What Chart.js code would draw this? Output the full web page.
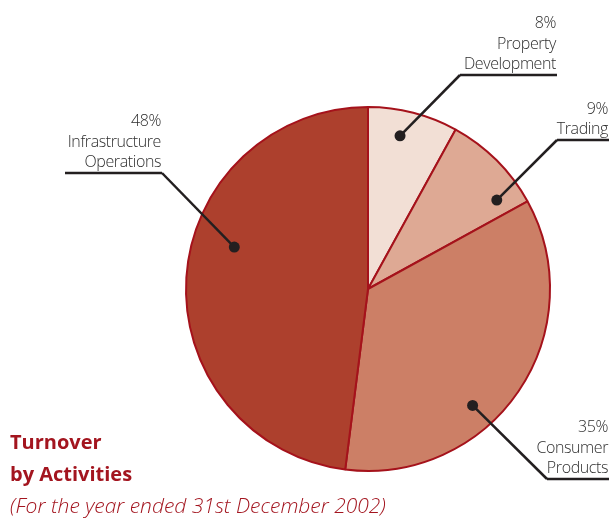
<!DOCTYPE html>
<html>
<head>
<meta charset="utf-8">
<script src="https://cdn.jsdelivr.net/npm/chart.js@4/dist/chart.umd.min.js"></script>
<style>
html,body{margin:0;padding:0;background:#fff;}
#wrap{position:relative;width:614px;height:520px;}
</style>
</head>
<body>
<div id="wrap"><canvas id="c" width="614" height="520"></canvas></div>
<script>
// ---- data ----
const categories = ['Property Development', 'Trading', 'Consumer Products', 'Infrastructure Operations'];
const labelLines = [['Property', 'Development'], ['Trading'], ['Consumer', 'Products'], ['Infrastructure', 'Operations']];
const shares = [8, 9, 35, 48];
const sliceColors = ['#f2dfd5', '#dea994', '#cc7f66', '#ad402d'];
const titleLines = ['Turnover', 'by Activities'];
const subtitle = '(For the year ended 31st December 2002)';

// ---- callout layout (position of dot within slice, underline anchor) ----
const callouts = [
  {frac: 0.41, rf: 0.86, ux0: 460, ux1: 557, uy: 75, anchor: 'left'},
  {frac: 0.82, rf: 0.86, ux0: 557, ux1: 609, uy: 140, anchor: 'left'},
  {frac: 0.61, rf: 0.86, ux0: 547, ux1: 609, uy: 479, anchor: 'left'},
  {frac: 0.58, rf: 0.77, ux0: 65, ux1: 162, uy: 173, anchor: 'right'}
];

const calloutPlugin = {
  id: 'callouts',
  afterDraw(chart) {
    const ctx = chart.ctx;
    const meta = chart.getDatasetMeta(0);
    ctx.save();
    meta.data.forEach((arc, i) => {
      const c = callouts[i];
      const p = arc.getProps(['x', 'y', 'startAngle', 'endAngle', 'outerRadius'], true);
      const a = p.startAngle + c.frac * (p.endAngle - p.startAngle);
      const r = c.rf * p.outerRadius;
      const dx = p.x + Math.cos(a) * r;
      const dy = p.y + Math.sin(a) * r;
      const ax = c.anchor === 'left' ? c.ux0 : c.ux1;
      ctx.strokeStyle = '#231f20';
      ctx.lineWidth = 2.5;
      ctx.lineCap = 'butt';
      ctx.beginPath();
      ctx.moveTo(dx, dy);
      ctx.lineTo(ax, c.uy);
      ctx.stroke();
      ctx.beginPath();
      ctx.moveTo(c.ux0, c.uy);
      ctx.lineTo(c.ux1, c.uy);
      ctx.stroke();
      ctx.fillStyle = '#231f20';
      ctx.beginPath();
      ctx.arc(dx, dy, 5.5, 0, Math.PI * 2);
      ctx.fill();
      // text
      const lines = [shares[i] + '%'].concat(labelLines[i]);
      ctx.font = '300 16px "Open Sans", sans-serif';
      ctx.letterSpacing = '-0.4px';
      ctx.fillStyle = '#2e2e2e';
      ctx.textAlign = 'right';
      ctx.textBaseline = 'alphabetic';
      const lastBase = c.uy - 6;
      for (let k = 0; k < lines.length; k++) {
        const y = lastBase - (lines.length - 1 - k) * 20.5;
        ctx.fillText(lines[k], c.ux1 - 1, y);
      }
    });
    // title
    ctx.letterSpacing = '0px';
    ctx.textAlign = 'left';
    ctx.fillStyle = '#a3151f';
    ctx.font = 'bold 20px "Open Sans", sans-serif';
    ctx.fillText(titleLines[0], 10, 449);
    ctx.fillText(titleLines[1], 10, 481);
    ctx.font = 'italic 300 21px "Open Sans", sans-serif';
    ctx.fillText(subtitle, 10, 513);
    ctx.restore();
  }
};

new Chart(document.getElementById('c'), {
  type: 'pie',
  data: {
    labels: categories,
    datasets: [{
      data: shares,
      backgroundColor: sliceColors,
      borderColor: '#a5121b',
      borderWidth: 2
    }]
  },
  options: {
    responsive: false,
    animation: false,
    layout: {padding: {left: 185, right: 63, top: 106, bottom: 48}},
    plugins: {legend: {display: false}, tooltip: {enabled: false}}
  },
  plugins: [calloutPlugin]
});
</script>
</body>
</html>
